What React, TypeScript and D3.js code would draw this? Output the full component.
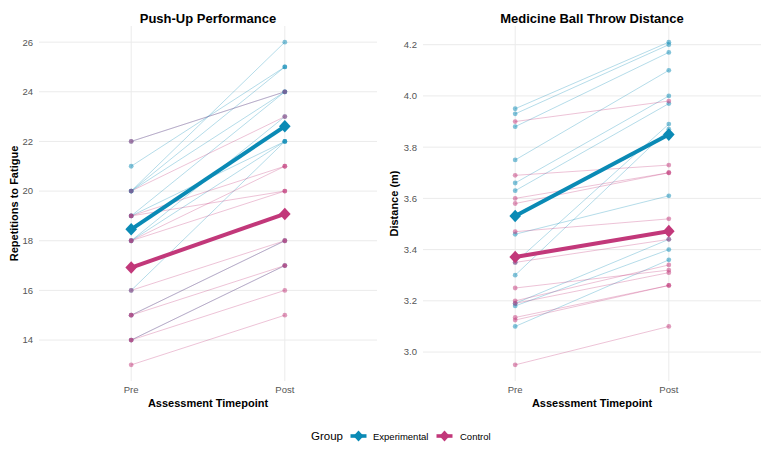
import React from "react";
import * as d3 from "d3";

const timepoints = ["Pre", "Post"];
const groupNames = ["Experimental", "Control"];

// Push-up performance (repetitions)
const pushExpPre = [22, 21, 20, 20, 20, 19, 19, 18, 18, 16, 15, 14];
const pushExpPost = [24, 25, 26, 25, 24, 24, 22, 23, 22, 22, 18, 17];
const pushCtrlPre = [22, 20, 19, 19, 18, 18, 16, 15, 15, 14, 14, 13];
const pushCtrlPost = [24, 23, 21, 20, 21, 20, 18, 18, 17, 17, 16, 15];
const pushExpMean = [18.46, 22.61];
const pushCtrlMean = [16.92, 19.08];
const pushTicks = [14, 16, 18, 20, 22, 24, 26];

// Medicine ball throw distance (m)
const throwExpPre = [3.95, 3.93, 3.88, 3.75, 3.66, 3.63, 3.46, 3.35, 3.3, 3.19, 3.18, 3.1];
const throwExpPost = [4.21, 4.2, 4.17, 4.1, 4.0, 3.97, 3.61, 3.89, 3.87, 3.44, 3.4, 3.36];
const throwCtrlPre = [3.9, 3.69, 3.6, 3.58, 3.47, 3.35, 3.25, 3.2, 3.19, 3.135, 3.125, 2.95];
const throwCtrlPost = [3.98, 3.73, 3.7, 3.7, 3.52, 3.44, 3.32, 3.34, 3.31, 3.26, 3.26, 3.1];
const throwExpMean = [3.531, 3.849];
const throwCtrlMean = [3.371, 3.472];
const throwTicks = [3.0, 3.2, 3.4, 3.6, 3.8, 4.0, 4.2];

const EXP = "#0a8ab5";
const CTRL = "#c2387a";
const FONT = "'Liberation Sans', Arial, Helvetica, sans-serif";

const PANEL_TOP = 26;
const PANEL_BOTTOM = 381;

type PanelProps = {
  left: number;
  right: number;
  labelX: number;
  title: string;
  yLabel: string;
  ticks: number[];
  fmt: (v: number) => string;
  expPre: number[];
  expPost: number[];
  ctrlPre: number[];
  ctrlPost: number[];
  expMean: number[];
  ctrlMean: number[];
};

function diamond(cx: number, cy: number, w: number, h: number) {
  return `M${cx},${cy - h}L${cx + w},${cy}L${cx},${cy + h}L${cx - w},${cy}Z`;
}

function Panel(p: PanelProps) {
  const all = [...p.expPre, ...p.expPost, ...p.ctrlPre, ...p.ctrlPost];
  const [mn, mx] = d3.extent(all) as [number, number];
  const pad = (mx - mn) * 0.05;
  const y = d3.scaleLinear().domain([mn - pad, mx + pad]).range([PANEL_BOTTOM, PANEL_TOP]);
  const x = d3.scalePoint<string>().domain(timepoints).range([p.left, p.right]).padding(0.6);
  const line = d3
    .line<number>()
    .x((_, i) => x(timepoints[i]) as number)
    .y((d) => y(d));
  const cx = (p.left + p.right) / 2;
  const groups = [
    { name: groupNames[0], color: EXP, pre: p.expPre, post: p.expPost, mean: p.expMean },
    { name: groupNames[1], color: CTRL, pre: p.ctrlPre, post: p.ctrlPost, mean: p.ctrlMean },
  ];
  return (
    <g>
      {p.ticks.map((t) => (
        <line key={"g" + t} x1={p.left} x2={p.right} y1={y(t)} y2={y(t)} stroke="#ebebeb" strokeWidth={1} />
      ))}
      {timepoints.map((t) => (
        <line key={"v" + t} x1={x(t)} x2={x(t)} y1={PANEL_TOP} y2={PANEL_BOTTOM} stroke="#ebebeb" strokeWidth={1} />
      ))}
      {p.ticks.map((t) => (
        <text key={"t" + t} x={p.left - 6} y={y(t) + 3.4} textAnchor="end" fontSize={9.5} fill="#555" fontFamily={FONT}>
          {p.fmt(t)}
        </text>
      ))}
      {timepoints.map((t) => (
        <text key={"xt" + t} x={x(t)} y={393} textAnchor="middle" fontSize={9.5} fill="#555" fontFamily={FONT}>
          {t}
        </text>
      ))}
      <text x={cx} y={407} textAnchor="middle" fontSize={11} fontWeight="bold" fontFamily={FONT} fill="#000">
        Assessment Timepoint
      </text>
      <text
        transform={`translate(${p.labelX},${(PANEL_TOP + PANEL_BOTTOM) / 2}) rotate(-90)`}
        textAnchor="middle"
        fontSize={11}
        fontWeight="bold"
        fontFamily={FONT}
        fill="#000"
      >
        {p.yLabel}
      </text>
      <text x={cx} y={23} textAnchor="middle" fontSize={13} fontWeight="bold" fontFamily={FONT} fill="#000">
        {p.title}
      </text>
      {groups.map((g) =>
        g.pre.map((v, i) => (
          <path
            key={g.name + "l" + i}
            d={line([v, g.post[i]]) as string}
            fill="none"
            stroke={g.color}
            strokeOpacity={0.3}
            strokeWidth={1}
          />
        ))
      )}
      {groups.map((g) =>
        g.pre.map((v, i) => (
          <g key={g.name + "p" + i}>
            <circle cx={x(timepoints[0])} cy={y(v)} r={2.4} fill={g.color} fillOpacity={0.5} />
            <circle cx={x(timepoints[1])} cy={y(g.post[i])} r={2.4} fill={g.color} fillOpacity={0.5} />
          </g>
        ))
      )}
      {groups.map((g) => (
        <g key={g.name + "m"}>
          <path d={line(g.mean) as string} fill="none" stroke={g.color} strokeWidth={4} />
          {g.mean.map((m, i) => (
            <path key={i} d={diamond(x(timepoints[i]) as number, y(m), 5.8, 6.3)} fill={g.color} />
          ))}
        </g>
      ))}
    </g>
  );
}

export default function App() {
  return (
    <svg
      width={769}
      height={449}
      style={{ position: "absolute", left: 0, top: 0, background: "#fff" }}
      fontFamily={FONT}
    >
      <rect width={769} height={449} fill="#fff" />
      <Panel
        left={39}
        right={377}
        labelX={17.5}
        title="Push-Up Performance"
        yLabel="Repetitions to Fatigue"
        ticks={pushTicks}
        fmt={(v) => d3.format("d")(v)}
        expPre={pushExpPre}
        expPost={pushExpPost}
        ctrlPre={pushCtrlPre}
        ctrlPost={pushCtrlPost}
        expMean={pushExpMean}
        ctrlMean={pushCtrlMean}
      />
      <Panel
        left={423}
        right={761}
        labelX={398}
        title="Medicine Ball Throw Distance"
        yLabel="Distance (m)"
        ticks={throwTicks}
        fmt={(v) => d3.format(".1f")(v)}
        expPre={throwExpPre}
        expPost={throwExpPost}
        ctrlPre={throwCtrlPre}
        ctrlPost={throwCtrlPost}
        expMean={throwExpMean}
        ctrlMean={throwCtrlMean}
      />
      <g>
        <text x={311} y={440} fontSize={11.5} fill="#000" fontFamily={FONT}>
          Group
        </text>
        {[EXP, CTRL].map((c, i) => {
          const kx = i === 0 ? 358.5 : 444.5;
          const tx = i === 0 ? 373 : 460;
          return (
            <g key={c}>
              <line x1={kx - 8} x2={kx + 8} y1={436} y2={436} stroke={c} strokeWidth={3.6} />
              <path d={diamond(kx, 436, 5, 5.5)} fill={c} />
              <text x={tx} y={439.5} fontSize={9.5} fill="#000" fontFamily={FONT}>
                {groupNames[i]}
              </text>
            </g>
          );
        })}
      </g>
    </svg>
  );
}
